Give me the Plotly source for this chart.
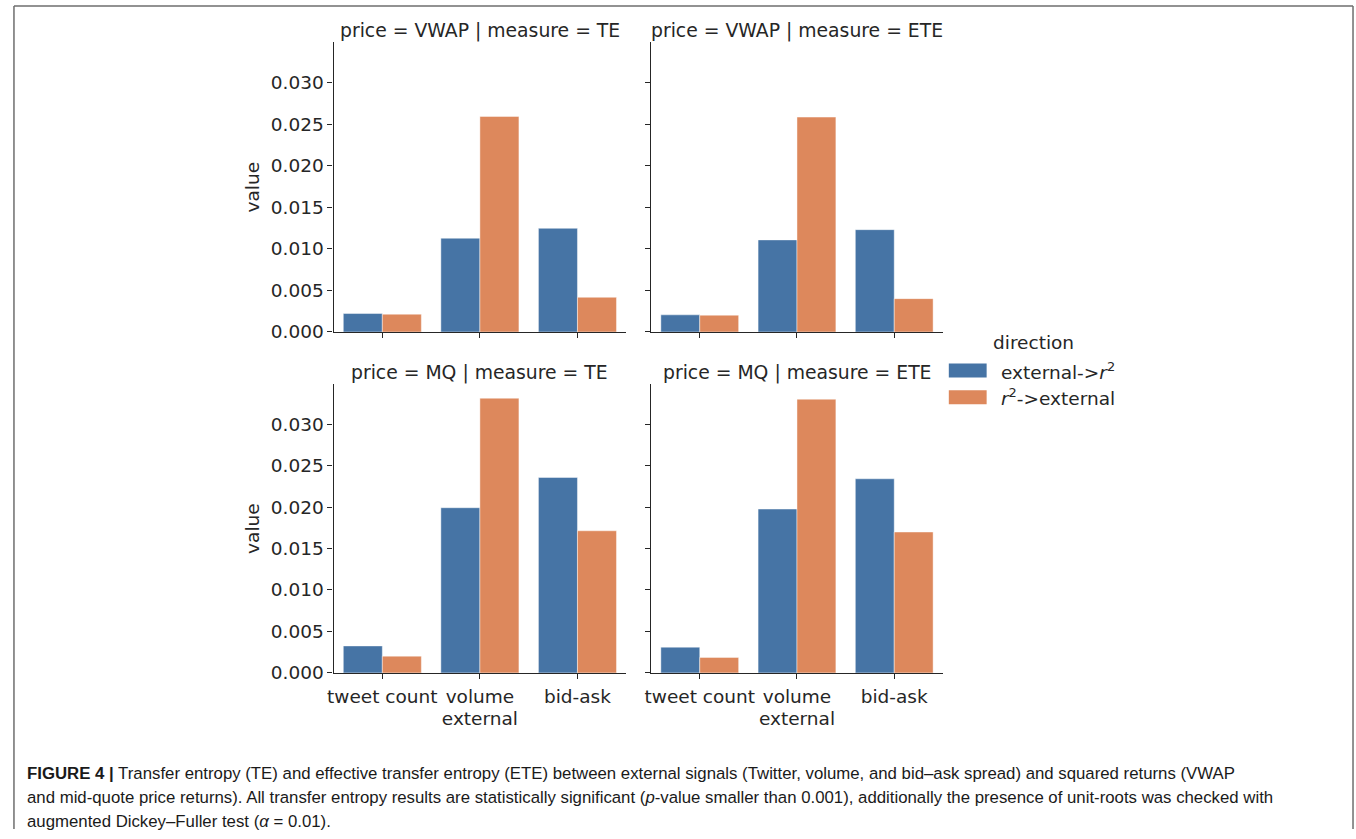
import plotly.graph_objects as go

W, H = 1356, 839

categories = ["tweet count", "volume", "bid-ask"]
directions = ["external->r2", "r2->external"]

vwap_te_ext_to_r2 = [0.00222, 0.01127, 0.01246]
vwap_te_r2_to_ext = [0.00214, 0.02591, 0.00417]
vwap_ete_ext_to_r2 = [0.00206, 0.01107, 0.01230]
vwap_ete_r2_to_ext = [0.00202, 0.02583, 0.00401]
mq_te_ext_to_r2 = [0.00325, 0.01992, 0.02357]
mq_te_r2_to_ext = [0.00202, 0.03313, 0.01714]
mq_ete_ext_to_r2 = [0.00310, 0.01976, 0.02341]
mq_ete_r2_to_ext = [0.00187, 0.03301, 0.01699]

y_ticks = [0.000, 0.005, 0.010, 0.015, 0.020, 0.025, 0.030]

BLUE = "#4674A5"
ORANGE = "#DD885C"
INK = "#262626"
FONT = "DejaVu Sans"
FS = 18.5


def px_x(x):
    return x / W


def px_y(y):
    return 1 - y / H


# panel boxes in pixels: (left, right, top, bottom)
panels = [
    dict(title="price = VWAP | measure = TE", box=(329, 623, 43, 336),
         vals=(vwap_te_ext_to_r2, vwap_te_r2_to_ext), left=True, bottom=False),
    dict(title="price = VWAP | measure = ETE", box=(648, 941, 43, 336),
         vals=(vwap_ete_ext_to_r2, vwap_ete_r2_to_ext), left=False, bottom=False),
    dict(title="price = MQ | measure = TE", box=(329, 623, 389, 681),
         vals=(mq_te_ext_to_r2, mq_te_r2_to_ext), left=True, bottom=True),
    dict(title="price = MQ | measure = ETE", box=(648, 941, 389, 681),
         vals=(mq_ete_ext_to_r2, mq_ete_r2_to_ext), left=False, bottom=True),
]

fig = go.Figure()
layout = dict(
    width=W, height=H,
    margin=dict(l=0, r=0, t=0, b=0),
    paper_bgcolor="white", plot_bgcolor="white",
    barmode="group", bargap=0.2, bargroupgap=0.0,
    showlegend=False,
    font=dict(family=FONT, size=FS, color=INK),
)
annotations = []
shapes = []

for i, p in enumerate(panels, start=1):
    xa = "x" if i == 1 else f"x{i}"
    ya = "y" if i == 1 else f"y{i}"
    l, r, t, b = p["box"]
    for vals, color in zip(p["vals"], [BLUE, ORANGE]):
        fig.add_trace(go.Bar(
            x=categories, y=vals, xaxis=xa, yaxis=ya,
            marker=dict(color=color, line=dict(color="rgba(255,255,255,0.55)", width=0.8)),
        ))
    xaxis = dict(
        domain=[px_x(l), px_x(r)], anchor=ya,
        range=[-0.5, 2.5], type="category",
        showline=True, linecolor=INK, linewidth=1.25,
        ticks="outside", ticklen=5, tickwidth=1.25, tickcolor=INK,
        showticklabels=p["bottom"], showgrid=False, zeroline=False,
        tickfont=dict(family=FONT, size=FS, color=INK),
    )
    if p["bottom"]:
        xaxis["ticklabelstandoff"] = 2
        xaxis["title"] = dict(text="external", font=dict(family=FONT, size=FS, color=INK), standoff=5)
    yaxis = dict(
        domain=[px_y(b), px_y(t)], anchor=xa,
        range=[0, 0.0348],
        tickvals=y_ticks, tickformat=".3f",
        showline=True, linecolor=INK, linewidth=1.25,
        ticks="outside", ticklen=5, tickwidth=1.25, tickcolor=INK,
        showticklabels=p["left"], showgrid=False, zeroline=False,
        tickfont=dict(family=FONT, size=FS, color=INK),
    )
    if p["left"]:
        yaxis["title"] = dict(text="value", font=dict(family=FONT, size=FS, color=INK), standoff=6)
    layout["xaxis" if i == 1 else f"xaxis{i}"] = xaxis
    layout["yaxis" if i == 1 else f"yaxis{i}"] = yaxis
    annotations.append(dict(
        text=p["title"], xref="paper", yref="paper",
        x=px_x((l + r) / 2), y=px_y(t - 12), xanchor="center", yanchor="middle",
        showarrow=False, font=dict(family=FONT, size=18.8, color=INK),
    ))

# legend
annotations.append(dict(text="direction", xref="paper", yref="paper",
                        x=px_x(1032), y=px_y(347), xanchor="center", yanchor="middle",
                        showarrow=False, font=dict(family=FONT, size=FS, color=INK)))
legend_rows = [
    (BLUE, "external->", True, 375),
    (ORANGE, "->external", False, 402),
]
for color, label, r_last, yc in legend_rows:
    shapes.append(dict(type="rect", xref="paper", yref="paper",
                       x0=px_x(947), x1=px_x(985), y0=px_y(yc + 7), y1=px_y(yc - 7),
                       fillcolor=color, line=dict(width=0)))
    if r_last:
        txt = label + "<i>r</i><sup>2</sup>"
    else:
        txt = "<i>r</i><sup>2</sup>" + label
    annotations.append(dict(text=txt, xref="paper", yref="paper",
                            x=px_x(997), y=px_y(yc), xanchor="left", yanchor="middle",
                            showarrow=False, font=dict(family=FONT, size=FS, color=INK)))

# caption
CAP_FONT = "Liberation Sans"
caption_lines = [
    "<b>FIGURE 4 |</b> Transfer entropy (TE) and effective transfer entropy (ETE) between external "
    "signals (Twitter, volume, and bid–ask spread) and squared returns (VWAP",
    "and mid-quote price returns). All transfer entropy results are statistically significant "
    "(<i>p</i>-value smaller than 0.001), additionally the presence of unit-roots was checked with",
    "augmented Dickey–Fuller test (<i>α</i> = 0.01).",
]
for line, yc in zip(caption_lines, [783, 807, 831]):
    annotations.append(dict(text=line, xref="paper", yref="paper",
                            x=px_x(19), y=px_y(yc), xanchor="left", yanchor="middle",
                            showarrow=False, font=dict(family=CAP_FONT, size=16.8, color="#1a1a1a")))

# outer frame
frame = "#6e6e6e"
shapes += [
    dict(type="line", xref="paper", yref="paper", x0=px_x(8), x1=px_x(1353),
         y0=px_y(6), y1=px_y(6), line=dict(color=frame, width=1.5)),
    dict(type="line", xref="paper", yref="paper", x0=px_x(8), x1=px_x(8),
         y0=px_y(6), y1=0, line=dict(color=frame, width=1.5)),
    dict(type="line", xref="paper", yref="paper", x0=px_x(1353), x1=px_x(1353),
         y0=px_y(6), y1=0, line=dict(color=frame, width=1.5)),
]

layout["annotations"] = annotations
layout["shapes"] = shapes
fig.update_layout(**layout)

fig.write_html("out.html")
